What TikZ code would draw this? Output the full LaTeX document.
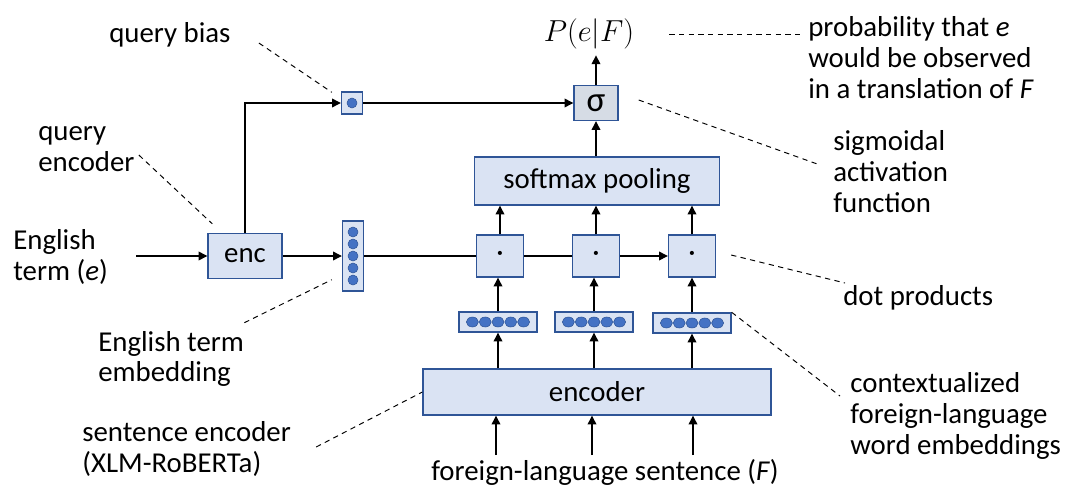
\documentclass[tikz,border=0pt]{standalone}
\usepackage{fontspec}
\setmainfont{Carlito}
\usepackage{tikz}
\usetikzlibrary{arrows.meta,calc,positioning,shapes.geometric}

\definecolor{boxfill}{HTML}{DAE3F3}
\definecolor{boxline}{HTML}{2F5597}
\definecolor{sigfill}{HTML}{D6DCE5}
\definecolor{beadfill}{HTML}{4472C4}

\begin{document}
\begin{tikzpicture}[x=0.02cm,y=-0.02cm]
    \newcommand{\lbl}{\fontsize{16.4}{17.6}\selectfont}
    \tikzstyle{arr}     = [line width=0.7pt,-{Triangle[length=5pt,width=5pt]}]
    \tikzstyle{link}    = [line width=0.7pt]
    \tikzstyle{callout} = [line width=0.55pt,dash pattern=on 3pt off 2.5pt]
    \tikzstyle{box}=[
      draw=boxline,
      fill=boxfill,
      line width=0.8pt,
      inner sep=0pt,
      font=\lbl,
    ]
    \tikzstyle{note} = [align=left,anchor=west,inner sep=0pt,font=\lbl]
    \tikzstyle{bead} = [ellipse,fill=beadfill,draw=boxline,line width=0.3pt,inner sep=0pt]

    \useasboundingbox (0,0) rectangle (1065,487);

    % boxes
    \node[box,minimum width=0.42cm,minimum height=0.44cm] (bias) at (352,103) {};
    \node[box,fill=sigfill,minimum width=0.88cm,minimum height=0.70cm,font=\fontsize{20}{20}\selectfont] (sig) at (596,103) {σ};
    \node[box,minimum width=4.9cm,minimum height=0.96cm] (pool) at (597,181) {softmax pooling};
    \node[box,minimum width=1.48cm,minimum height=0.9cm] (enc) at (245,256) {enc};
    \node[box,minimum width=0.42cm,minimum height=1.4cm] (vec) at (353,256) {};
    \node[box,minimum width=0.94cm,minimum height=0.84cm] (d1) at (500,256) {·};
    \node[box,minimum width=0.94cm,minimum height=0.84cm] (d2) at (596,256) {·};
    \node[box,minimum width=0.94cm,minimum height=0.84cm] (d3) at (692,256) {·};
    \node[box,minimum width=1.56cm,minimum height=0.4cm] (w1) at (498,322) {};
    \node[box,minimum width=1.56cm,minimum height=0.4cm] (w2) at (594,322) {};
    \node[box,minimum width=1.56cm,minimum height=0.4cm] (w3) at (692,323) {};
    \node[box,minimum width=6.96cm,minimum height=0.92cm] (senc) at (597,392) {encoder};

    % beads
    \path (bias) node[bead,minimum width=0.2cm,minimum height=0.2cm] {};
    \foreach \k in {-2,...,2}
      \path (vec) ++(0,\k*12) node[bead,minimum width=0.2cm,minimum height=0.2cm] {};
    \foreach \w in {w1,w2,w3}
      \foreach \k in {-2,...,2}
        \path (\w) ++(\k*12.8,0) node[bead,minimum width=0.24cm,minimum height=0.2cm] {};

    % texts
    \node[font=\fontsize{18}{20}\selectfont] (pef) at (589,34) {$P(e|F)$};
    \node[note] (lbias) at (109,35) {query bias};
    \node[note] (lprob) at (808,58) {probability that \textit{e}\\would be observed\\in a translation of \textit{F}};
    \node[note] (lqenc) at (38,149) {query\\encoder};
    \node[note] (lsig) at (833,172) {sigmoidal\\activation\\function};
    \node[note] (lterm) at (13,257) {English\\term (\textit{e})};
    \node[note] (ldot) at (843,298) {dot products};
    \node[note] (lemb) at (98,359) {English term\\embedding};
    \node[note] (lctx) at (850,416) {contextualized\\foreign-language\\word embeddings};
    \node[note] (lsenc) at (82,449) {sentence encoder\\(XLM-RoBERTa)};
    \node[font=\lbl,inner sep=0pt] (lsent) at (605,472) {foreign-language sentence (\textit{F})};

    \coordinate (ein) at (136,256);
    \coordinate (f1) at (496,455);
    \coordinate (f2) at (592,455);
    \coordinate (f3) at (693,455);

    % flow
    \draw[arr] (ein) -- (enc.west);
    \draw[arr] (enc) -- (vec);
    \draw[arr] (enc.north) |- (bias.west);
    \draw[arr] (bias) -- (sig);
    \draw[arr] (pool.north -| sig.south) -- (sig.south);
    \draw[arr] (sig.north) -- (sig.north |- pef.south);
    \draw[link] (vec) -- (d1);
    \draw[link] (d1) -- (d2);
    \draw[arr] (d2) -- (d3);
    \foreach \d in {d1,d2,d3}
      \draw[arr] (\d.north) -- (\d.north |- pool.south);
    \foreach \w/\d in {w1/d1,w2/d2,w3/d3}
      \draw[arr] (\w.north) -- (\w.north |- \d.south);
    \foreach \w in {w1,w2,w3}
      \draw[arr] (\w.south |- senc.north) -- (\w.south);
    \foreach \f in {f1,f2,f3}
      \draw[arr] (\f) -- (\f |- senc.south);

    % callouts
    \draw[callout] ($(lbias.east)+(28,8)$) -- ($(bias.north west)+(-9,1)$);
    \draw[callout] ($(pef.east)+(29,0)$) -- ($(lprob.west)+(-8,-24)$);
    \draw[callout] ($(lqenc.east)+(4,6)$) -- ($(enc.north west)+(5,-9)$);
    \draw[callout] ($(sig.east)+(20,-3)$) -- ($(lsig.west)+(-13,-7)$);
    \draw[callout] ($(lemb.north east)+(0,-8)$) -- ($(vec.south west)+(-10,-12)$);
    \draw[callout] ($(d3.east)+(15,-1)$) -- ($(ldot.west)+(2,-15)$);
    \draw[callout] (w3.north east) -- ($(lctx.west)+(-10,-20)$);
    \draw[callout] ($(lsenc.east)+(25,-2)$) -- (senc.west);
\end{tikzpicture}
\end{document}
